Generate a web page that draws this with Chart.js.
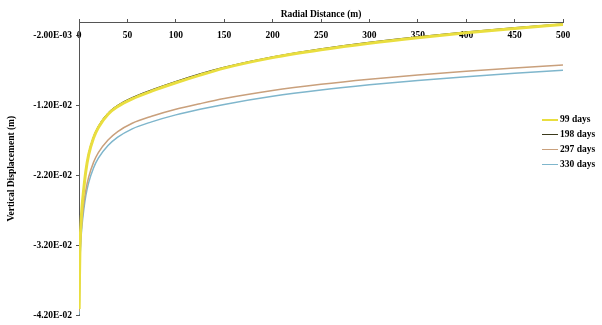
<!DOCTYPE html>
<html>
<head>
<meta charset="utf-8">
<script src="https://cdn.jsdelivr.net/npm/chart.js@4"></script>
<style>
  body { margin: 0; background: #fff; }
  #wrap { position: relative; width: 602px; height: 325px; }
  #legend { position: absolute; left: 542px; top: 112px; font: bold 9.5px "Liberation Serif", serif; color: #000; }
  #legend div { height: 15px; line-height: 15px; display: flex; align-items: center; }
  #legend span.key { display: inline-block; width: 16px; margin-right: 2px; }
</style>
</head>
<body>
<div id="wrap">
  <canvas id="chart" width="602" height="325"></canvas>
  <div id="legend"></div>
</div>
<script>
/* DATA */
const radius = [0.2, 0.5, 1, 2, 3, 5, 7, 10, 15, 20, 30, 40, 55, 75, 100, 125, 150, 200, 250, 300, 350, 400, 450, 500];
const days99 = [-0.0411, -0.0366, -0.0323, -0.0290, -0.0267, -0.0238, -0.0214, -0.0190, -0.0166, -0.0151, -0.0132, -0.0121, -0.0110, -0.0099, -0.0087, -0.0076, -0.0066, -0.0051, -0.00397, -0.00303, -0.00224, -0.00155, -0.00093, -0.00036];
const days198 = [-0.0410, -0.0365, -0.0322, -0.0288, -0.0265, -0.0236, -0.0212, -0.0188, -0.0164, -0.0149, -0.0130, -0.0119, -0.0108, -0.0097, -0.0085, -0.0074, -0.00646, -0.00498, -0.00383, -0.00289, -0.0021, -0.00141, -0.0008, -0.00026];
const days297 = [-0.0415, -0.0376, -0.0338, -0.0305, -0.0286, -0.0260, -0.0241, -0.0222, -0.0201, -0.0187, -0.0169, -0.0157, -0.0145, -0.0135, -0.0125, -0.0117, -0.01097, -0.00982, -0.00893, -0.0082, -0.00758, -0.00705, -0.00658, -0.00615];
const days330 = [-0.0419, -0.0381, -0.0344, -0.0312, -0.0293, -0.0268, -0.0249, -0.0230, -0.0209, -0.0195, -0.0177, -0.0165, -0.0153, -0.0143, -0.0133, -0.0125, -0.0118, -0.01064, -0.00974, -0.0090, -0.00837, -0.00783, -0.00735, -0.0069];
const seriesNames = ["99 days", "198 days", "297 days", "330 days"];
const yTicks = [-0.042, -0.032, -0.022, -0.012, -0.002];

const colors = ["#e9de3f", "#3b3a1c", "#c9a07c", "#7fb6cc"];
const widths = [3, 1, 1.5, 1.5];
const font = { family: "'Liberation Serif', serif", weight: "bold", size: 9.5 };

/* Format like Excel: -2.00E-03 */
function sci(v) {
  return v.toExponential(2).toUpperCase().replace(/E([+-])(\d)$/, "E$10$2");
}

const allSeries = [days99, days198, days297, days330];
const datasets = allSeries.map((vals, i) => ({
  label: seriesNames[i],
  data: radius.map((r, j) => ({ x: r, y: vals[j] })),
  borderColor: colors[i],
  borderWidth: widths[i],
  pointRadius: 0,
  cubicInterpolationMode: "monotone",
  fill: false
}));

new Chart(document.getElementById("chart"), {
  type: "line",
  data: { datasets },
  options: {
    responsive: false,
    animation: false,
    devicePixelRatio: 1,
    layout: { padding: { left: 0, top: 0, right: 39, bottom: 9 } },
    plugins: { legend: { display: false }, tooltip: { enabled: false } },
    scales: {
      x: {
        type: "linear",
        position: "top",
        min: 0,
        max: 500,
        afterFit: s => { s.height = 22; },
        /* labels sit under the top axis line, like the Excel original */
        ticks: { stepSize: 50, autoSkip: false, maxRotation: 0, mirror: true, padding: 8, color: "#000", font },
        grid: { drawOnChartArea: false, tickLength: 3, color: "#555" },
        border: { color: "#555" },
        title: { display: true, text: "Radial Distance (m)", color: "#000", font, padding: { top: 9, bottom: 0 } }
      },
      y: {
        type: "linear",
        min: -0.042,
        max: 0,
        afterFit: s => { s.width = 79; },
        afterBuildTicks: s => { s.ticks = yTicks.map(v => ({ value: v })); },
        ticks: { padding: 4, color: "#000", font, callback: v => sci(v) },
        grid: { drawOnChartArea: false, tickLength: 3, color: "#555" },
        border: { color: "#555" },
        title: { display: true, text: "Vertical Displacement (m)", color: "#000", font, padding: { top: 6, bottom: 0 } }
      }
    }
  }
});

/* Legend */
const legend = document.getElementById("legend");
seriesNames.forEach((name, i) => {
  const row = document.createElement("div");
  row.innerHTML = `<span class="key" style="border-top:${Math.min(widths[i], 2)}px solid ${colors[i]}"></span>${name}`;
  legend.appendChild(row);
});
</script>
</body>
</html>
